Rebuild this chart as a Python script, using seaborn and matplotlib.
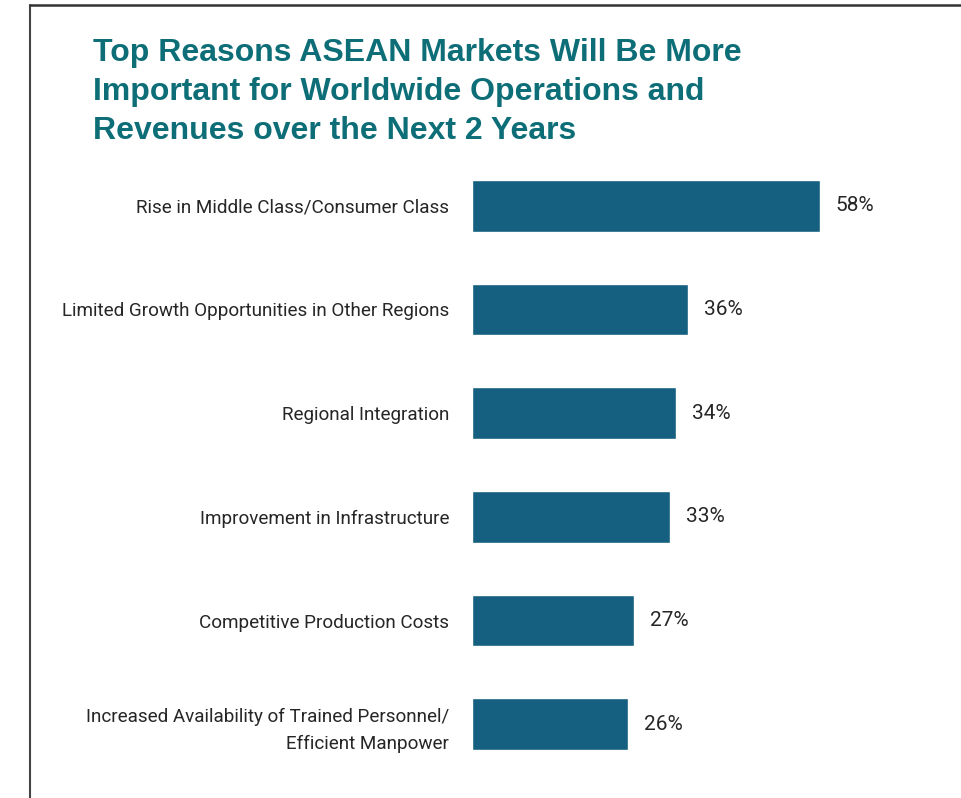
import matplotlib.pyplot as plt
import matplotlib.lines as mlines
import pandas as pd
import seaborn as sns

reasons = [
    "Rise in Middle Class/Consumer Class",
    "Limited Growth Opportunities in Other Regions",
    "Regional Integration",
    "Improvement in Infrastructure",
    "Competitive Production Costs",
    "Increased Availability of Trained Personnel/\nEfficient Manpower",
]
shares = [58, 36, 34, 33, 27, 26]

title = ("Top Reasons ASEAN Markets Will Be More\n"
         "Important for Worldwide Operations and\n"
         "Revenues over the Next 2 Years")

bar_color = "#155f80"
title_color = "#0e6e78"
text_color = "#262626"
label_font = ["Roboto", "DejaVu Sans"]

df = pd.DataFrame({"reason": reasons, "share": shares})

sns.set_theme(style="white")
plt.rcParams['font.family'] = label_font

W, H = 961, 798
fig = plt.figure(figsize=(W / 100, H / 100), dpi=100)
ax = fig.add_axes([472 / W, 1 - 776 / H, 1 - 472 / W, 622 / H])

sns.barplot(data=df, x="share", y="reason", orient="h", color=bar_color,
            saturation=1, width=0.5, ax=ax)

ax.set_xlim(0, (W - 472) / 6.0)
ax.set_ylim(5.5, -0.5)
ax.set_xlabel("")
ax.set_ylabel("")
ax.set_xticks([])
ax.tick_params(axis="y", length=0, pad=16.5, labelsize=13.6, labelcolor=text_color)
for lbl in ax.get_yticklabels():
    lbl.set_family(label_font)
    lbl.set_multialignment("right")
    lbl.set_linespacing(1.65)
for s in ax.spines.values():
    s.set_visible(False)

# value labels at the bar ends
for i, v in enumerate(shares):
    ax.text(v + 2.6, i, f"{v}%", va="center", ha="left", fontsize=15,
            color=text_color, family=label_font)

fig.text(93 / W, 1 - 38 / H, title, ha="left", va="top", fontsize=23,
         fontweight="bold", color=title_color, linespacing=1.4,
         family=["Liberation Sans", "DejaVu Sans"])

# frame lines (left and top)
fig.add_artist(mlines.Line2D([30 / W, 30 / W], [0, 1 - 5 / H],
                             color="#444444", lw=1.5, transform=fig.transFigure))
fig.add_artist(mlines.Line2D([30 / W, 1], [1 - 5 / H, 1 - 5 / H],
                             color="#333333", lw=1.8, transform=fig.transFigure))

fig.savefig("out.png", dpi=100)
